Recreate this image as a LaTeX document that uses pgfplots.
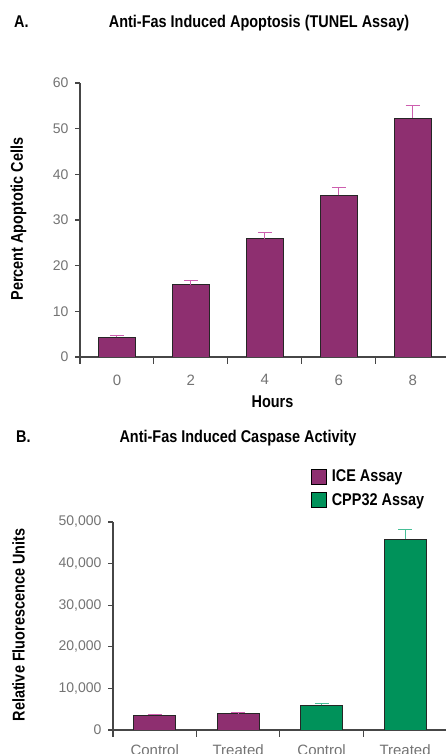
\documentclass[border=0pt]{standalone}
\usepackage{fontspec}
\setmainfont{Liberation Sans}
\newfontfamily\cond{Liberation Sans}[FakeStretch=0.85]
\usepackage{pgfplots}
\pgfplotsset{compat=1.18}
\definecolor{mag}{RGB}{142,47,112}
\definecolor{magerr}{RGB}{205,95,175}
\definecolor{grn}{RGB}{0,146,90}
\definecolor{grnerr}{RGB}{70,190,150}
\definecolor{tickc}{RGB}{115,115,115}
\definecolor{axc}{RGB}{70,70,70}
\newcommand{\bigb}{\cond\bfseries\fontsize{17}{20}\selectfont}
\pgfplotsset{
  mystyle/.style={
    scale only axis, anchor=south west,
    axis lines*=left,
    axis line style={axc, line width=1.1pt},
    tick align=outside,
    major tick length=5pt, minor tick length=7pt,
    tick style={axc, line width=1.1pt},
    major x tick style={draw=none},
    /pgf/number format/assume math mode=true,
    ticklabel style={text=tickc},
    yticklabel style={font=\fontsize{14}{16}\selectfont, xshift=-3pt},
    xticklabel style={font=\fontsize{15}{17}\selectfont, yshift=-9pt},
  }
}
\begin{document}
\begin{tikzpicture}
\useasboundingbox (0pt,0pt) rectangle (446pt,754pt);
% Titles and axis titles
\node[anchor=base west, inner sep=0] at (14pt,726pt) {\bigb A.};
\node[anchor=base, inner sep=0] at (259pt,726pt) {\bigb Anti-Fas Induced Apoptosis (TUNEL Assay)};
\node[anchor=base west, inner sep=0] at (16pt,311pt) {\bigb B.};
\node[anchor=base, inner sep=0] at (238pt,311pt) {\bigb Anti-Fas Induced Caspase Activity};
\node[rotate=90, anchor=center, inner sep=0] at (18.5pt,535pt) {\bigb Percent Apoptotic Cells};
\node[rotate=90, anchor=center, inner sep=0] at (18.5pt,129pt) {\bigb Relative Fluorescence Units};
\node[anchor=base, inner sep=0] at (272.5pt,346pt) {\bigb Hours};
% Panel A
\begin{axis}[mystyle,
  at={(80pt,397pt)}, width=366pt, height=274pt,
  xmin=-0.5, xmax=4.45, ymin=0, ymax=60,
  ytick={0,10,...,60},
  xtick={0,1,2,3,4}, xticklabels={0,2,4,6,8},
  minor xtick={-0.5,0.5,1.5,2.5,3.5},
]
\addplot[ybar, bar width=37pt, fill=mag, draw=black!85, line width=0.8pt,
  error bars/.cd, y dir=plus, y explicit,
  error bar style={magerr, line width=1pt},
  error mark options={rotate=90, magerr, mark size=7pt, line width=1pt}]
  coordinates {(0,4.3) +- (0,0.4) (1,15.8) +- (0,0.9) (2,25.9) +- (0,1.3) (3,35.4) +- (0,1.8) (4,52.3) +- (0,2.7)};
\end{axis}
% Panel B
\begin{axis}[mystyle,
  at={(113pt,24pt)}, width=333pt, height=208pt,
  xmin=-0.5, xmax=3.49, ymin=0, ymax=50000,
  ytick={0,10000,...,50000}, scaled y ticks=false,
  yticklabel style={/pgf/number format/fixed, /pgf/number format/1000 sep={,}},
  xticklabel style={yshift=3pt},
  xtick={0,1,2,3}, xticklabels={Control,Treated,Control,Treated},
  minor xtick={-0.5,0.5,1.5,2.5},
  legend style={at={(axis description cs:0.594,1.26)}, anchor=north west, draw=none, fill=none,
    font=\bigb, row sep=6pt, inner sep=0pt,
    nodes={inner xsep=5pt}},
  legend cell align=left,
  legend image code/.code={\draw[#1, draw=black, line width=0.8pt] (0pt,-7.5pt) rectangle (15pt,7.5pt);},
]
\addplot[ybar, bar width=42pt, bar shift=0pt, fill=mag, draw=black!85, line width=0.8pt,
  error bars/.cd, y dir=plus, y explicit,
  error bar style={magerr, line width=1pt},
  error mark options={rotate=90, magerr, mark size=7pt, line width=1pt}]
  coordinates {(0,3600) +- (0,200) (1,3900) +- (0,250)};
\addlegendentry{ICE Assay}
\addplot[ybar, bar width=42pt, bar shift=0pt, fill=grn, draw=black!85, line width=0.8pt,
  error bars/.cd, y dir=plus, y explicit,
  error bar style={grnerr, line width=1pt},
  error mark options={rotate=90, grnerr, mark size=7pt, line width=1pt}]
  coordinates {(2,5900) +- (0,400) (3,45900) +- (0,2400)};
\addlegendentry{CPP32 Assay}
\end{axis}
\end{tikzpicture}
\end{document}
